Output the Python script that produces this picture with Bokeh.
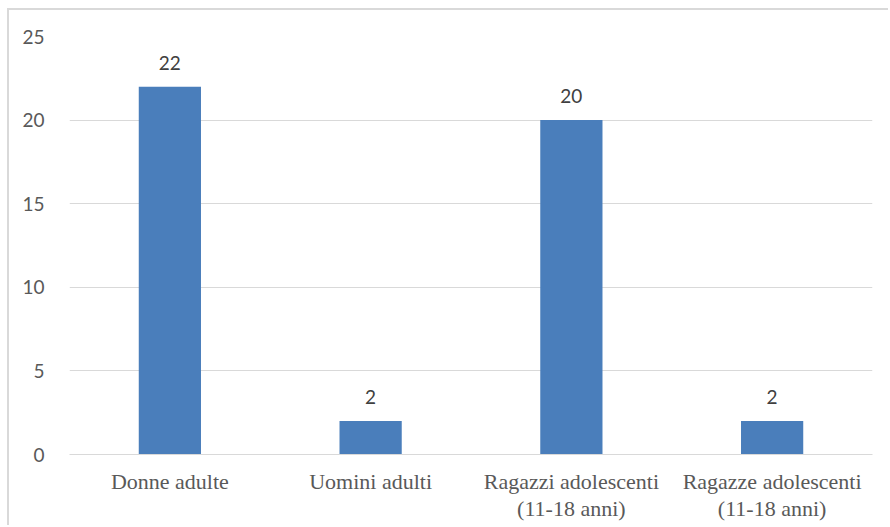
from bokeh.plotting import figure
from bokeh.models import ColumnDataSource, Range1d, FixedTicker, LabelSet
from bokeh.core.properties import value
from bokeh.embed import file_html
from bokeh.resources import INLINE

categories = ["Donne adulte", "Uomini adulti",
              "Ragazzi adolescenti\n(11-18 anni)", "Ragazze adolescenti\n(11-18 anni)"]
values = [22, 2, 20, 2]
y_ticks = [0, 5, 10, 15, 20, 25]

source = ColumnDataSource(data=dict(cat=categories, val=values,
                                    lbl=[str(v) for v in values]))

p = figure(x_range=categories, y_range=Range1d(0, 25),
           width=881, height=517, output_backend="svg", toolbar_location=None,
           min_border_left=60, min_border_right=18, min_border_top=26,
           min_border_bottom=73)
p.styles = {"margin-left": "7px", "margin-top": "8px",
            "border-left": "2px solid #d9d9d9", "border-top": "2px solid #d9d9d9"}
p.outline_line_color = None

p.vbar(x="cat", top="val", width=0.31, source=source,
       fill_color="#4a7ebb", line_color=None)

labels = LabelSet(x="cat", y="val", text="lbl", source=source,
                  text_align="center", text_baseline="bottom", y_offset=17,
                  text_font=value("Lato"), text_font_size="19px",
                  text_color="#404040")
p.add_layout(labels)

p.yaxis.ticker = FixedTicker(ticks=y_ticks)
p.yaxis.axis_line_color = None
p.yaxis.major_tick_line_color = None
p.yaxis.minor_tick_line_color = None
p.yaxis.major_label_standoff = 19
p.yaxis.major_label_text_font = "Lato"
p.yaxis.major_label_text_font_size = "19px"
p.yaxis.major_label_text_color = "#595959"

p.xaxis.axis_line_color = "#d9d9d9"
p.xaxis.major_tick_line_color = None
p.xaxis.minor_tick_line_color = None
p.xaxis.major_label_standoff = 8
p.xaxis.major_label_text_font = "Liberation Serif"
p.xaxis.major_label_text_font_size = "22px"
p.xaxis.major_label_text_line_height = 1.1
p.xaxis.major_label_text_color = "#595959"

p.xgrid.grid_line_color = None
p.ygrid.grid_line_color = "#d9d9d9"
p.ygrid.grid_line_width = 1

open("out.html", "w").write(file_html(p, INLINE))
